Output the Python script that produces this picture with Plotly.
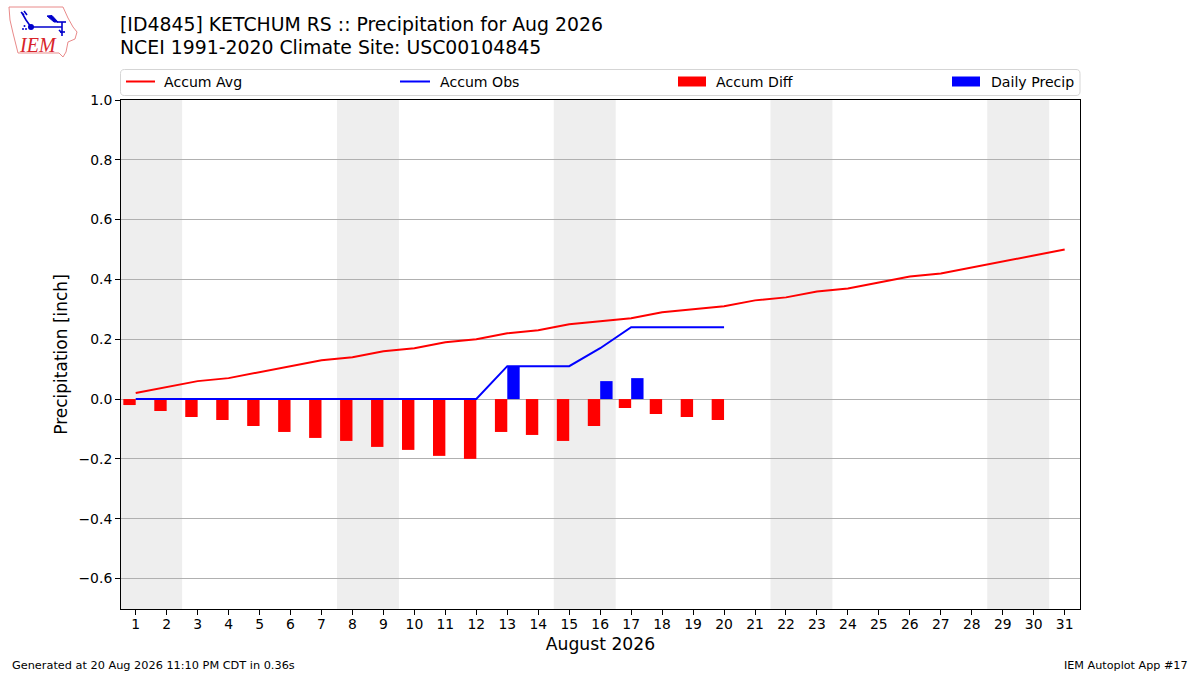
import plotly.graph_objects as go

# data
days = list(range(1, 32))
accum_avg = [0.02, 0.04, 0.06, 0.07, 0.09, 0.11, 0.13, 0.14, 0.16, 0.17, 0.19, 0.20, 0.22, 0.23, 0.25, 0.26,
             0.27, 0.29, 0.30, 0.31, 0.33, 0.34, 0.36, 0.37, 0.39, 0.41, 0.42, 0.44, 0.46, 0.48, 0.50]
obs_days = days[:20]
accum_obs = [0, 0, 0, 0, 0, 0, 0, 0, 0, 0, 0, 0, 0.11, 0.11, 0.11, 0.17, 0.24, 0.24, 0.24, 0.24]
accum_diff = [-0.02, -0.04, -0.06, -0.07, -0.09, -0.11, -0.13, -0.14, -0.16, -0.17, -0.19, -0.20,
              -0.11, -0.12, -0.14, -0.09, -0.03, -0.05, -0.06, -0.07]
daily_precip = [0, 0, 0, 0, 0, 0, 0, 0, 0, 0, 0, 0, 0.11, 0, 0, 0.06, 0.07, 0, 0, 0]
weekend_starts = [1, 8, 15, 22, 29]
y_ticks = [-0.6, -0.4, -0.2, 0.0, 0.2, 0.4, 0.6, 0.8, 1.0]

FONT = "DejaVu Sans"
L, R, T, B = 121, 1080, 100, 609


# page pixels to paper coords, for everything outside the axes
def px(x):
    return (x - L) / (R - L)


def py(y):
    return (B - y) / (B - T)


def page_path(points, close=False):
    d = "M" + " L".join(f"{px(x):.5f},{py(y):.5f}" for x, y in points)
    return d + (" Z" if close else "")


fig = go.Figure()

# bars sit either side of the day tick
fig.add_trace(go.Bar(x=days[:20], y=accum_diff, width=0.4, offset=-0.4, marker=dict(color="#ff0000", line_width=0),
                     name="Accum Diff"))
fig.add_trace(go.Bar(x=obs_days, y=daily_precip, width=0.4, offset=0, marker=dict(color="#0000ff", line_width=0),
                     name="Daily Precip"))
fig.add_trace(go.Scatter(x=days, y=accum_avg, mode="lines", line=dict(color="#ff0000", width=2), name="Accum Avg"))
fig.add_trace(go.Scatter(x=obs_days, y=accum_obs, mode="lines", line=dict(color="#0000ff", width=2), name="Accum Obs"))

for d in weekend_starts:
    fig.add_vrect(x0=d - 0.5, x1=d + 1.5, fillcolor="#eeeeee", line_width=0, layer="below")

# legend box, drawn by hand to get the wide matplotlib handles
r = 4
lx0, lx1, ly0, ly1 = 120.5, 1080, 69.5, 95.5
box = (f"M{px(lx0 + r):.5f},{py(ly0):.5f} L{px(lx1 - r):.5f},{py(ly0):.5f} "
       f"Q{px(lx1):.5f},{py(ly0):.5f} {px(lx1):.5f},{py(ly0 + r):.5f} L{px(lx1):.5f},{py(ly1 - r):.5f} "
       f"Q{px(lx1):.5f},{py(ly1):.5f} {px(lx1 - r):.5f},{py(ly1):.5f} L{px(lx0 + r):.5f},{py(ly1):.5f} "
       f"Q{px(lx0):.5f},{py(ly1):.5f} {px(lx0):.5f},{py(ly1 - r):.5f} L{px(lx0):.5f},{py(ly0 + r):.5f} "
       f"Q{px(lx0):.5f},{py(ly0):.5f} {px(lx0 + r):.5f},{py(ly0):.5f} Z")
fig.add_shape(type="path", xref="paper", yref="paper", path=box, line=dict(color="#d5d5d5", width=1), fillcolor="white")

legend_items = [("Accum Avg", 126, 155, 164, "line", "#ff0000"),
                ("Accum Obs", 400, 430, 440, "line", "#0000ff"),
                ("Accum Diff", 678, 706, 716, "bar", "#ff0000"),
                ("Daily Precip", 952, 980, 991, "bar", "#0000ff")]
for label, h0, h1, tx, kind, color in legend_items:
    if kind == "line":
        fig.add_shape(type="line", xref="paper", yref="paper", x0=px(h0), x1=px(h1), y0=py(81.5), y1=py(81.5),
                      line=dict(color=color, width=2))
    else:
        fig.add_shape(type="rect", xref="paper", yref="paper", x0=px(h0), x1=px(h1), y0=py(86.5), y1=py(76.5),
                      fillcolor=color, line_width=0)
    fig.add_annotation(xref="paper", yref="paper", x=px(tx), y=py(81.5), text=label, showarrow=False,
                       xanchor="left", yanchor="middle", xshift=-2, font=dict(family=FONT, size=14.1, color="black"))

# logo
iowa = [(9, 7), (63, 7), (68, 18), (73, 27), (77, 32), (75, 39), (68, 42), (66, 52), (63, 57), (59, 53),
        (18, 53), (13, 33), (10, 20)]
fig.add_shape(type="path", xref="paper", yref="paper", path=page_path(iowa, True),
              line=dict(color="#e98a8a", width=1), fillcolor="white")
logo_lines = [[(31, 27), (62, 27)], [(31, 27), (26, 20), (22, 13)], [(21, 12), (24, 15)], [(24, 11), (27, 15)],
              [(57, 22), (66, 22)], [(62, 22), (62, 36)], [(60, 32), (65, 32)], [(59, 30), (62, 33)]]
for seg in logo_lines:
    fig.add_shape(type="path", xref="paper", yref="paper", path=page_path(seg), line=dict(color="#0000cc", width=1.6))
fig.add_shape(type="path", xref="paper", yref="paper", path=page_path([(47, 16), (52, 15.5), (58, 22), (54, 22)], True),
              line=dict(color="#0000cc", width=1), fillcolor="#0000cc")
fig.add_shape(type="circle", xref="paper", yref="paper", x0=px(28), x1=px(34), y0=py(30), y1=py(24),
              line_width=0, fillcolor="#0000cc")
for dx, dy in [(23, 29), (26, 29), (24.5, 26)]:
    fig.add_shape(type="circle", xref="paper", yref="paper", x0=px(dx - 1), x1=px(dx + 1), y0=py(dy + 1), y1=py(dy - 1),
                  line_width=0, fillcolor="#0000cc")
fig.add_annotation(xref="paper", yref="paper", x=px(37.5), y=py(44.5), text="<i>IEM</i>", showarrow=False,
                   xanchor="center", yanchor="middle", font=dict(family="Liberation Serif", size=20, color="#d8232a"))

# second title line sits a touch closer than plotly's line spacing
fig.add_annotation(xref="paper", yref="paper", x=px(120), y=py(48), text="NCEI 1991-2020 Climate Site: USC00104845",
                   showarrow=False, xanchor="left", yanchor="middle", xshift=-2,
                   font=dict(family=FONT, size=18.85, color="black"))

# footer
fig.add_annotation(xref="paper", yref="paper", x=px(12), y=py(665), text="Generated at 20 Aug 2026 11:10 PM CDT in 0.36s",
                   showarrow=False, xanchor="left", yanchor="middle", xshift=-2, font=dict(family=FONT, size=11.3, color="black"))
fig.add_annotation(xref="paper", yref="paper", x=px(1188), y=py(665), text="IEM Autoplot App #17",
                   showarrow=False, xanchor="right", yanchor="middle", xshift=2, font=dict(family=FONT, size=11.2, color="black"))

fig.update_xaxes(
    range=[0.525, 31.495], tickmode="array", tickvals=days, ticks="outside", ticklen=5, tickwidth=1, tickcolor="black",
    showgrid=False, zeroline=False, showline=True, linecolor="black", linewidth=1, mirror=True,
    tickfont=dict(family=FONT, size=13.9, color="black"), ticklabelstandoff=-3,
    title=dict(text="August 2026", font=dict(family=FONT, size=17.2, color="black"), standoff=7),
)
fig.update_yaxes(
    range=[-0.702, 1.0], tickmode="array", tickvals=y_ticks, tickformat=".1f", ticks="outside", ticklen=5, tickwidth=1,
    tickcolor="black", showgrid=True, gridcolor="#b0b0b0", gridwidth=1, zeroline=False, showline=True,
    linecolor="black", linewidth=1, mirror=True, tickfont=dict(family=FONT, size=13.9, color="black"),
    title=dict(text="Precipitation [inch]", font=dict(family=FONT, size=17, color="black"), standoff=6),
)
fig.update_layout(
    width=1200, height=675, autosize=False, margin=dict(l=L, r=1200 - R, t=T, b=675 - B),
    plot_bgcolor="white", paper_bgcolor="white", showlegend=False, barmode="overlay",
    title=dict(text="[ID4845] KETCHUM RS :: Precipitation for Aug 2026",
               x=120 / 1200, xanchor="left", y=1 - 24 / 675, yanchor="middle", font=dict(family=FONT, size=18.85, color="black")),
)

# the page's default body margin would push the figure 8px off
fig.write_html("out.html", config={"displayModeBar": False}, post_script="document.body.style.margin='0';")
